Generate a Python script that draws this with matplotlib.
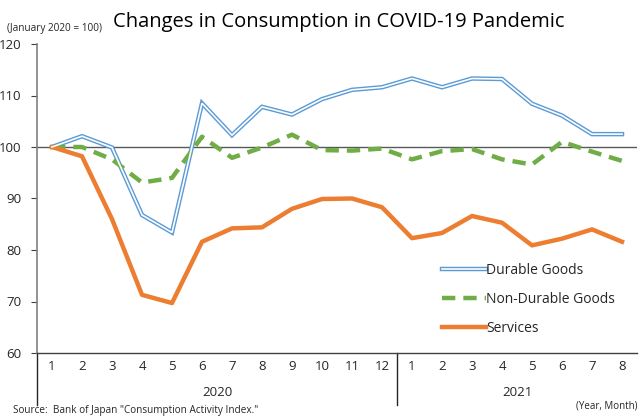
import matplotlib
matplotlib.use("Agg")
import matplotlib.pyplot as plt
from matplotlib.lines import Line2D

plt.rcParams['font.family'] = ['Open Sans', 'DejaVu Sans']

months = ["1", "2", "3", "4", "5", "6", "7", "8", "9", "10", "11", "12",
          "1", "2", "3", "4", "5", "6", "7", "8"]
years = ["2020", "2021"]
durable = [100, 102.1, 99.9, 86.8, 83.4, 108.5, 102.3, 107.8, 106.3, 109.3, 111.1, 111.6,
           113.3, 111.6, 113.3, 113.2, 108.4, 106.1, 102.5, 102.5]
nondurable = [100, 100.0, 97.6, 93.1, 94.0, 102.0, 97.9, 99.9, 102.4, 99.4, 99.3, 99.7,
              97.6, 99.2, 99.6, 97.6, 96.6, 101.0, 99.1, 97.3]
services = [100, 98.2, 86.0, 71.3, 69.7, 81.6, 84.2, 84.4, 88.0, 89.9, 90.0, 88.3,
            82.3, 83.3, 86.6, 85.3, 80.9, 82.2, 84.0, 81.6]
series_names = ["Durable Goods", "Non-Durable Goods", "Services"]

W, H = 641, 417
fig = plt.figure(figsize=(W / 100, H / 100), dpi=100)
ax = fig.add_axes([37 / W, 1 - 353 / H, 600 / W, (353 - 44) / H])

x = list(range(len(months)))
ax.set_xlim(-0.5, len(months) - 0.5)
ax.set_ylim(60, 120)

ax.axhline(100, color="#595959", lw=1.0, zorder=1)

b1, = ax.plot(x, durable, color="#5B9BD5", lw=3.2, solid_joinstyle="miter", zorder=3)
b2, = ax.plot(x, durable, color="white", lw=1.2, solid_joinstyle="miter", zorder=4)
g, = ax.plot(x, nondurable, color="#70AD47", lw=3.2, dashes=(3, 1.8), zorder=3)
o, = ax.plot(x, services, color="#ED7D31", lw=3.2, zorder=3)

ax.set_yticks(range(60, 121, 10))
ax.tick_params(axis="y", direction="out", length=4, color="#404040", labelsize=9.5,
               labelcolor="#262626", pad=7)
ax.set_xticks([])

for s in ["top", "right"]:
    ax.spines[s].set_visible(False)
ax.spines["left"].set_color("#808080")
ax.spines["left"].set_linewidth(1.2)
ax.spines["bottom"].set_color("#404040")
ax.spines["bottom"].set_linewidth(1.0)

# category labels
trans = ax.get_xaxis_transform()
for i, m in enumerate(months):
    ax.text(i, -14 / 309, m, ha="center", va="center", fontsize=9.5, color="#262626",
            transform=trans, clip_on=False)
ax.text(5.5, -40 / 309, years[0], ha="center", va="center", fontsize=9.5, color="#262626",
        transform=trans, clip_on=False)
ax.text(15.5, -40 / 309, years[1], ha="center", va="center", fontsize=9.5, color="#262626",
        transform=trans, clip_on=False)
for xv in [-0.5, 11.5]:
    ax.add_line(Line2D([xv, xv], [0, -52 / 309], transform=trans, color="#262626",
                       lw=1.0, clip_on=False))

leg = ax.legend([(b1, b2), g, o], series_names, loc="lower left",
                bbox_to_anchor=(0.665, 0.038), frameon=False, fontsize=10,
                handlelength=3.2, handletextpad=0.0, labelspacing=1.0,
                borderaxespad=0.0)
for t in leg.get_texts():
    t.set_color("#262626")

fig.text(7 / W, 1 - 28 / H, "(January 2020 = 100)", fontsize=7.2, color="#262626",
         va="center", ha="left")
fig.text(113 / W, 1 - 22 / H, "Changes in Consumption in COVID-19 Pandemic", fontsize=14.5,
         color="black", va="center", ha="left")
fig.text(13 / W, 1 - 410 / H, "Source:  Bank of Japan \"Consumption Activity Index.\"",
         fontsize=7.2, color="#262626", va="center", ha="left")
fig.text(638 / W, 1 - 406 / H, "(Year, Month)", fontsize=7.0, color="#262626",
         va="center", ha="right")

fig.savefig("out.png", dpi=100)
